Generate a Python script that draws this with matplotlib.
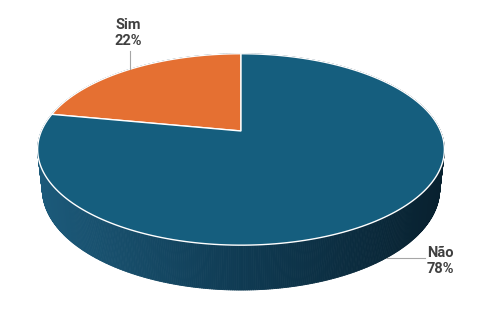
import numpy as np
import matplotlib.pyplot as plt
from matplotlib.patches import Polygon
from matplotlib.collections import PolyCollection
from matplotlib.colors import LinearSegmentedColormap

labels = ['Sim', 'Não']
values = [22, 78]
colors = ['#E57032', '#155E7E']

# perspective view of the pie (pixel space)
cx, cy = 241, 131
F = 918
D = 4.6
elev = np.radians(27.5)
h = 0.225


def project(X, Y, Z):
    yc = Y * np.sin(elev) + Z * np.cos(elev)
    depth = D + Y * np.cos(elev) - Z * np.sin(elev)
    return cx + F * X / depth, cy - F * yc / depth


fig = plt.figure(figsize=(4.91, 3.13), dpi=100)
ax = fig.add_axes([0, 0, 1, 1])
ax.set_xlim(0, 491)
ax.set_ylim(313, 0)
ax.axis('off')

# side wall, gradient from left to right
side_cmap = LinearSegmentedColormap.from_list('side', ['#1C5A7A', '#0F3A52', '#08202E'])
t = np.linspace(0, 2 * np.pi, 721)
quads, depths, xs = [], [], []
for t0, t1 in zip(t[:-1], t[1:]):
    u0, v0 = project(np.cos(t0), np.sin(t0), 0)
    u1, v1 = project(np.cos(t1), np.sin(t1), 0)
    u2, v2 = project(np.cos(t1), np.sin(t1), -h)
    u3, v3 = project(np.cos(t0), np.sin(t0), -h)
    quads.append([(u0, v0), (u1, v1), (u2, v2), (u3, v3)])
    depths.append(np.sin((t0 + t1) / 2))
    xs.append((u0 + u1) / 2)
order = np.argsort(depths)[::-1]
quads = [quads[i] for i in order]
xs = np.array(xs)[order]
cols = side_cmap(np.clip((xs - 40) / 410, 0, 1))
ax.add_collection(PolyCollection(quads, facecolors=cols, edgecolors=cols, linewidths=0.6))

# top face wedges
fracs = np.array(values) / sum(values)
start = np.pi / 2
mids = []
for frac, col in zip(fracs, colors):
    end = start + frac * 2 * np.pi
    ang = np.linspace(start, end, 200)
    pu, pv = project(np.cos(ang), np.sin(ang), 0)
    pts = [(cx, cy)] + list(zip(pu, pv))
    ax.add_patch(Polygon(pts, closed=True, facecolor=col, edgecolor='white', linewidth=1.0))
    mids.append((start + end) / 2)
    start = end

txt = dict(fontsize=10.5, fontweight='bold', color='#404040', family='Roboto', linespacing=1.2)

# Sim label: leader from top edge upwards
a = mids[0]
u, v = project(np.cos(a), np.sin(a), 0)
ax.plot([u, u], [v, v - 18], color='#A6A6A6', lw=0.8)
ax.text(u - 2, v - 21, f'{labels[0]}\n{values[0]}%', ha='center', va='bottom', **txt)

# Não label: leader from bottom edge to the right
a = mids[1]
u, v = project(np.cos(a), np.sin(a), -h)
ax.plot([u, u + 38], [v, v], color='#A6A6A6', lw=0.8)
ax.text(u + 40, v + 3, f'{labels[1]}\n{values[1]}%', ha='left', va='center', multialignment='center', **txt)

fig.savefig('out.png', dpi=100)
